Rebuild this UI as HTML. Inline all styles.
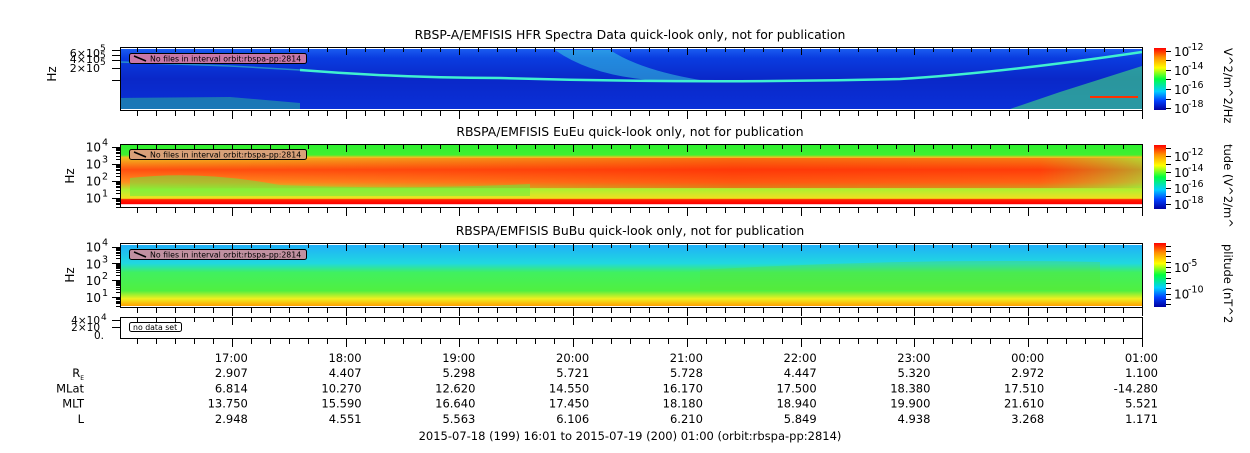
<!DOCTYPE html>
<html><head><meta charset="utf-8"><style>
body{margin:0;background:#fff;width:1250px;height:449px;overflow:hidden;font-family:"DejaVu Sans","Liberation Sans",sans-serif;}
svg text{font-family:"DejaVu Sans","Liberation Sans",sans-serif;}
</style></head><body>
<svg id="chart" width="1250" height="449" viewBox="0 0 1250 449" xmlns="http://www.w3.org/2000/svg">
<defs>
<linearGradient id="cb" x1="0" y1="1" x2="0" y2="0">
<stop offset="0" stop-color="#0000a0"/><stop offset="0.15" stop-color="#0040ff"/><stop offset="0.3" stop-color="#00d0ff"/><stop offset="0.5" stop-color="#00ff40"/><stop offset="0.68" stop-color="#ffff00"/><stop offset="0.85" stop-color="#ff9000"/><stop offset="1" stop-color="#ff0000"/></linearGradient>
<linearGradient id="g1" x1="0" y1="0" x2="0" y2="1">
<stop offset="0" stop-color="#1a5cf0"/><stop offset="0.15" stop-color="#0a3ce0"/><stop offset="0.5" stop-color="#0a28c8"/><stop offset="1" stop-color="#0a30d8"/></linearGradient>
<linearGradient id="g2" x1="0" y1="0" x2="0" y2="1">
<stop offset="0" stop-color="#30f030"/><stop offset="0.16" stop-color="#40f030"/><stop offset="0.2" stop-color="#f0c020"/><stop offset="0.4" stop-color="#ff5010"/><stop offset="0.6" stop-color="#ff9020"/><stop offset="0.72" stop-color="#b0f030"/><stop offset="0.86" stop-color="#f0e020"/><stop offset="0.88" stop-color="#ff2000"/><stop offset="0.95" stop-color="#ff0000"/><stop offset="0.96" stop-color="#fff"/><stop offset="1" stop-color="#fff"/></linearGradient>
<linearGradient id="g3" x1="0" y1="0" x2="0" y2="1">
<stop offset="0" stop-color="#20b0f8"/><stop offset="0.3" stop-color="#20d8e0"/><stop offset="0.45" stop-color="#40f060"/><stop offset="0.75" stop-color="#50f040"/><stop offset="0.88" stop-color="#f0f020"/><stop offset="1" stop-color="#ffa000"/></linearGradient>
<linearGradient id="g2h" x1="0" y1="0" x2="1" y2="0">
<stop offset="0" stop-color="#ff3000" stop-opacity="0"/><stop offset="0.6" stop-color="#ff2000" stop-opacity="0.5"/><stop offset="0.9" stop-color="#ff2000" stop-opacity="0.4"/><stop offset="1" stop-color="#80f040" stop-opacity="0.5"/></linearGradient>
</defs>
<g id="titles">
<text x="630" y="39" font-size="12.4" text-anchor="middle">RBSP-A/EMFISIS  HFR Spectra Data quick-look only, not for publication</text>
<text x="630" y="136" font-size="12.4" text-anchor="middle">RBSPA/EMFISIS  EuEu quick-look only, not for publication</text>
<text x="630" y="235" font-size="12.4" text-anchor="middle">RBSPA/EMFISIS  BuBu quick-look only, not for publication</text>
</g>
<g>
<rect x="120" y="49" width="1022" height="60" fill="url(#g1)"/>
<path d="M120,98 L230,97 L300,103 L300,109 L120,109Z" fill="#30d090" opacity="0.45"/>
<path d="M1010,109 L1060,92 L1142,66 L1142,109Z" fill="#40e080" opacity="0.6"/>
<rect x="1090" y="96" width="48" height="2" fill="#ff3000"/>
<path d="M555,50 Q590,75 650,80 L700,80 Q640,70 610,50Z" fill="#40e8e0" opacity="0.45"/>
<path d="M300,70 Q400,78 500,78 Q700,84 900,79 Q1000,73 1142,52" fill="none" stroke="#40f0d0" stroke-width="2.5"/>
<path d="M300,70 L230,66 L120,62" fill="none" stroke="#40e0c0" stroke-width="1.5" opacity="0.5"/>
</g>
<g>
<rect x="120" y="145" width="1022" height="62" fill="url(#g2)"/>
<rect x="120" y="158" width="1022" height="30" fill="url(#g2h)"/>
<path d="M130,178 Q200,170 280,185 Q400,190 530,184 L530,196 L130,196Z" fill="#60f040" opacity="0.5"/>
</g>
<g>
<rect x="120" y="245" width="1022" height="61" fill="url(#g3)"/>
<path d="M700,270 Q900,258 1100,262 L1100,290 L700,290Z" fill="#60e030" opacity="0.3"/>
</g>
<g fill="none" stroke="#000" stroke-width="1">
<rect x="120.5" y="47.5" width="1022" height="63"/>
<rect x="120.5" y="144.5" width="1022" height="63"/>
<rect x="120.5" y="243.5" width="1022" height="64"/>
<rect x="120.5" y="317.5" width="1022" height="21"/>
</g>
<g id="xticks"></g>
<g font-size="9">
<g><rect x="129.5" y="53.5" width="177" height="10" rx="2" fill="#c878a8" stroke="#000"/><text x="150" y="61.5" font-size="7.8">No files in interval orbit:rbspa-pp:2814</text><line x1="134" y1="56" x2="146" y2="61" stroke="#000" stroke-width="1.5"/></g>
<g><rect x="129.5" y="149.5" width="177" height="10" rx="2" fill="#d8a078" stroke="#000"/><text x="150" y="157.5" font-size="7.8">No files in interval orbit:rbspa-pp:2814</text><line x1="134" y1="152" x2="146" y2="157" stroke="#000" stroke-width="1.5"/></g>
<g><rect x="129.5" y="249.5" width="177" height="10" rx="2" fill="#c090a0" stroke="#000"/><text x="150" y="257.5" font-size="7.8">No files in interval orbit:rbspa-pp:2814</text><line x1="134" y1="252" x2="146" y2="257" stroke="#000" stroke-width="1.5"/></g>
<g><rect x="129.5" y="322.5" width="52" height="9" rx="2" fill="#fff" stroke="#000"/><text x="133" y="330" font-size="7.8">no data set</text></g>
</g>
<g font-size="12" fill="#000">
<text x="56" y="74" transform="rotate(-90 56 74)" text-anchor="middle">Hz</text>
<text x="100" y="57" font-size="11" text-anchor="end">6×10</text><text x="100" y="51" font-size="9">5</text>
<text x="100" y="63" font-size="11" text-anchor="end">4×10</text><text x="100" y="58" font-size="9">5</text>
<text x="100" y="72" font-size="11" text-anchor="end">2×10</text><text x="100" y="65" font-size="9">5</text>
<text x="74" y="176" transform="rotate(-90 74 176)" text-anchor="middle">Hz</text>
<text x="74" y="275" transform="rotate(-90 74 275)" text-anchor="middle">Hz</text>
</g>
<g id="yaxes" font-size="12"></g>
<g>
<rect x="1154" y="48" width="12" height="62" fill="url(#cb)"/>
<rect x="1154" y="145" width="12" height="64" fill="url(#cb)"/>
<rect x="1154" y="243" width="12" height="64" fill="url(#cb)"/>
</g>
<g id="cbticks" font-size="12"></g>
<g font-size="11.5">
<text transform="translate(1224,48) rotate(90)">V^2/m^2/Hz</text>
<text transform="translate(1224,144) rotate(90)">tude (V^2/m^</text>
<text transform="translate(1224,244) rotate(90)">plitude (nT^2</text>
</g>
<g id="ephem" font-size="11.5"></g>
<text x="630" y="440" font-size="11.5" text-anchor="middle">2015-07-18 (199) 16:01 to 2015-07-19 (200) 01:00 (orbit:rbspa-pp:2814)</text>
</svg>
<script>
const hourLabels=["17:00","18:00","19:00","20:00","21:00","22:00","23:00","00:00","01:00"];
const reVals=["2.907","4.407","5.298","5.721","5.728","4.447","5.320","2.972","1.100"];
const mlatVals=["6.814","10.270","12.620","14.550","16.170","17.500","18.380","17.510","-14.280"];
const mltVals=["13.750","15.590","16.640","17.450","18.180","18.940","19.900","21.610","5.521"];
const lVals=["2.948","4.551","5.563","6.106","6.210","5.849","4.938","3.268","1.171"];
const rowNames=["R_E","MLat","MLT","L"];
const cb1Ticks=[-12,-14,-16,-18];
const cb2Ticks=[-12,-14,-16,-18];
const cb3Ticks=[-5,-10];
const yDecades=[1,2,3,4];
const NS="http://www.w3.org/2000/svg";
const startMin=1, endMin=540, x0=120, x1=1142;
function xs(m){return x0+(m-startMin)/(endMin-startMin)*(x1-x0);}
function mk(t,a,p){const e=document.createElementNS(NS,t);for(const k in a)e.setAttribute(k,a[k]);p.appendChild(e);return e;}
const xt=document.getElementById('xticks');
const panels=[[47,111],[144,208],[243,308],[317,339]];
for(let m=10;m<=540;m+=10){const x=Math.round(xs(m))+0.5;const major=(m%60===0);
 panels.forEach(([t,b])=>{const L=major?8:5;
  const l1=mk('line',{x1:x,x2:x,y1:b,y2:b+L,stroke:'#000'},xt);
  
  
  const l2=mk('line',{x1:x,x2:x,y1:t,y2:t+L,stroke:'#000'},xt);
  
  });}
const ep=document.getElementById('ephem');
const rows=[hourLabels,reVals,mlatVals,mltVals,lVals];
rows.forEach((arr,r)=>{arr.forEach((v,i)=>{const x=xs(60*(i+1));
 const t=mk('text',{x:x+16,y:362+r*15.2,'text-anchor':'end'},ep);t.textContent=v;
 
 });});
rowNames.forEach((n,r)=>{const t=mk('text',{x:84,y:377.2+r*15.2,'text-anchor':'end'},ep);
 if(n==="R_E"){t.textContent="R";const s=mk('tspan',{'font-size':'6',dy:'3'},t);s.textContent="E";}else t.textContent=n;
 
 });
const ya=document.getElementById('yaxes');
[[145,207,0.45,4.1],[245,306,0.45,4.1]].forEach(([t,b,lo,hi])=>{
 const ys=v=>b-(Math.log10(v)-lo)/(hi-lo)*(b-t);
 for(let d=0;d<=4;d++)for(let k=1;k<10;k++){const v=k*Math.pow(10,d);const lv=Math.log10(v);if(lv<lo||lv>hi)continue;
  const y=Math.round(ys(v))+0.5;mk('line',{x1:120,x2:k===1?112:116,y1:y,y2:y,stroke:'#000'},ya);}
 yDecades.forEach(d=>{const y=ys(Math.pow(10,d));const tx=mk('text',{x:101,y:y+5,'text-anchor':'end'},ya);tx.textContent="10";
  const s=mk('text',{x:102,y:y-1,'font-size':'9.5'},ya);s.textContent=d;
  
  });});
[[50],[55],[60],[68],[80]].forEach(([y])=>mk('line',{x1:112,x2:120,y1:y+0.5,y2:y+0.5,stroke:'#000'},ya));
[[320,"4×10"],[327,"2×10"]].forEach(([y,s])=>{const t=mk('text',{x:100,y:y+4,'text-anchor':'end','font-size':'10.5'},ya);t.textContent=s;mk('line',{x1:112,x2:120,y1:y+0.5,y2:y+0.5,stroke:'#000'},ya);});
const z=mk('text',{x:104,y:339,'text-anchor':'end','font-size':'10.5'},ya);z.textContent="0.";
const f=mk('text',{x:101,y:320,'font-size':'9'},ya);f.textContent="4";
const cbt=document.getElementById('cbticks');
function cbar(top,bot,lo,hi,ticks){const s=v=>bot-(v-lo)/(hi-lo)*(bot-top);
 for(let v=Math.ceil(lo);v<=hi;v++){const y=Math.round(s(v))+0.5;mk('line',{x1:1166,x2:1171,y1:y,y2:y,stroke:'#000'},cbt);}
 ticks.forEach(v=>{const y=s(v);const t=mk('text',{x:1174,y:y+5},cbt);t.textContent="10";
  const e=mk('text',{x:1188,y:y-1,'font-size':'9.5'},cbt);e.textContent=v;
  
  });}
cbar(48,110,-18.2,-11.7,cb1Ticks);
cbar(145,209,-18.6,-10.6,cb2Ticks);
cbar(243,307,-12.5,-0.5,cb3Ticks);
</script>
</body></html>
